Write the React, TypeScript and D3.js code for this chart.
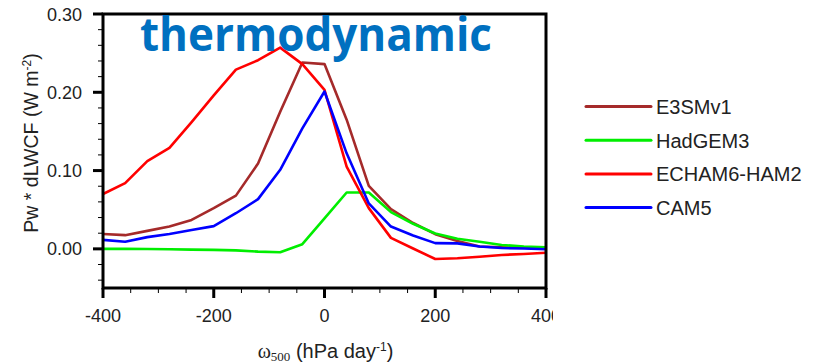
import * as d3 from 'd3';
import { useEffect, useRef } from 'react';

// omega500 bins (hPa/day)
const omega = [-400, -360, -320, -280, -240, -200, -160, -120, -80, -40, 0, 40, 80, 120, 160, 200, 240, 280, 320, 360, 400];

const e3sm = [0.019, 0.0175, 0.023, 0.0285, 0.037, 0.052, 0.068, 0.109, 0.175, 0.238, 0.236, 0.165, 0.0805, 0.0507, 0.033, 0.0188, 0.010, 0.003, 0.002, 0.0015, 0.001];
const hadgem = [0.0, 0.0, -0.0002, -0.0005, -0.001, -0.0013, -0.002, -0.0035, -0.0043, 0.006, 0.039, 0.072, 0.072, 0.047, 0.032, 0.0197, 0.013, 0.009, 0.005, 0.003, 0.002];
const echam = [0.070, 0.084, 0.112, 0.129, 0.162, 0.196, 0.229, 0.241, 0.257, 0.236, 0.203, 0.105, 0.052, 0.014, 0.0005, -0.013, -0.012, -0.010, -0.0078, -0.0065, -0.005];
const cam5 = [0.0115, 0.009, 0.015, 0.019, 0.024, 0.029, 0.0455, 0.0635, 0.101, 0.154, 0.201, 0.122, 0.058, 0.0285, 0.017, 0.0073, 0.007, 0.003, 0.001, 0.0005, -0.0005];

const seriesNames = ['E3SMv1', 'HadGEM3', 'ECHAM6-HAM2', 'CAM5'];
const seriesColors = ['#A52A2A', '#00EE00', '#FF0000', '#0000FF'];
const seriesValues = [e3sm, hadgem, echam, cam5];

const xTicks = [-400, -200, 0, 200, 400];
const yTicks = [0.0, 0.1, 0.2, 0.3];

export default function App() {
  const ref = useRef<SVGSVGElement>(null);

  useEffect(() => {
    const width = 821;
    const height = 363;
    const m = { left: 103, right: 546, top: 14, bottom: 288 };
    const font = 'Liberation Sans, Arial, sans-serif';

    const svg = d3.select(ref.current);
    svg.selectAll('*').remove();
    svg.attr('width', width).attr('height', height);

    svg.append('rect').attr('width', width).attr('height', height).attr('fill', '#fff');

    const x = d3.scaleLinear().domain([-400, 400]).range([m.left, m.right]);
    const y = d3.scaleLinear().domain([-0.05, 0.3]).range([m.bottom, m.top]);

    const defs = svg.append('defs');
    defs.append('clipPath').attr('id', 'plot-clip')
      .append('rect')
      .attr('x', m.left).attr('y', m.top)
      .attr('width', m.right - m.left).attr('height', m.bottom - m.top);
    defs.append('clipPath').attr('id', 'label-clip')
      .append('rect').attr('x', 0).attr('y', 0).attr('width', 553).attr('height', height);

    // lines
    const line = d3.line<number>()
      .x((_, i) => x(omega[i]))
      .y((d) => y(d));

    const lines = svg.append('g').attr('clip-path', 'url(#plot-clip)');
    seriesValues.forEach((vals, i) => {
      lines.append('path')
        .attr('d', line(vals))
        .attr('fill', 'none')
        .attr('stroke', seriesColors[i])
        .attr('stroke-width', 2.6)
        .attr('stroke-linejoin', 'round');
    });

    // frame
    svg.append('rect')
      .attr('x', m.left).attr('y', m.top)
      .attr('width', m.right - m.left).attr('height', m.bottom - m.top)
      .attr('fill', 'none')
      .attr('stroke', '#000')
      .attr('stroke-width', 3);

    // x ticks
    const xMinor = d3.range(-400, 401, 50).filter((v) => v % 200 !== 0);
    svg.append('g').selectAll('line').data(xTicks).enter().append('line')
      .attr('x1', (d) => x(d)).attr('x2', (d) => x(d))
      .attr('y1', m.bottom).attr('y2', m.bottom + 10)
      .attr('stroke', '#000').attr('stroke-width', 3);
    svg.append('g').selectAll('line').data(xMinor).enter().append('line')
      .attr('x1', (d) => x(d)).attr('x2', (d) => x(d))
      .attr('y1', m.bottom).attr('y2', m.bottom + 5)
      .attr('stroke', '#000').attr('stroke-width', 1);
    svg.append('g').attr('clip-path', 'url(#label-clip)')
      .selectAll('text').data(xTicks).enter().append('text')
      .attr('x', (d) => x(d)).attr('y', 322)
      .attr('text-anchor', 'middle')
      .style('font-family', font)
      .style('font-size', '18px')
      .attr('fill', '#222')
      .text((d) => (d < 0 ? '-' + Math.abs(d) : String(d)));

    // y ticks
    const yMinor = d3.range(-0.04, 0.3, 0.02).filter((v) => Math.abs(v * 10 - Math.round(v * 10)) > 0.01);
    svg.append('g').selectAll('line').data(yTicks).enter().append('line')
      .attr('x1', m.left - 10).attr('x2', m.left)
      .attr('y1', (d) => y(d)).attr('y2', (d) => y(d))
      .attr('stroke', '#000').attr('stroke-width', 3);
    svg.append('g').selectAll('line').data(yMinor).enter().append('line')
      .attr('x1', m.left - 5).attr('x2', m.left)
      .attr('y1', (d) => y(d)).attr('y2', (d) => y(d))
      .attr('stroke', '#000').attr('stroke-width', 1);
    svg.append('g').selectAll('text').data(yTicks).enter().append('text')
      .attr('x', 82).attr('y', (d) => y(d) + 6.5)
      .attr('text-anchor', 'end')
      .style('font-family', font)
      .style('font-size', '18px')
      .attr('fill', '#222')
      .text((d) => d3.format('.2f')(d));

    // axis titles
    const yt = svg.append('text')
      .attr('transform', `translate(38, ${(m.top + m.bottom) / 2 - 8}) rotate(-90)`)
      .attr('text-anchor', 'middle')
      .style('font-family', font)
      .style('font-size', '19.5px')
      .attr('fill', '#222');
    yt.append('tspan').text('Pw * dLWCF (W m');
    yt.append('tspan').attr('dy', -7).style('font-size', '12px').text('-2');
    yt.append('tspan').attr('dy', 7).text(')');

    const xt = svg.append('text')
      .attr('x', (m.left + m.right) / 2 + 1).attr('y', 358)
      .attr('text-anchor', 'middle')
      .style('font-family', font)
      .style('font-size', '20px')
      .attr('fill', '#222');
    xt.append('tspan').style('font-family', 'Liberation Serif, serif').text('ω');
    xt.append('tspan').attr('dy', 3).style('font-family', 'Liberation Serif, serif').style('font-size', '13px').text('500');
    xt.append('tspan').attr('dy', -3).text(' (hPa day');
    xt.append('tspan').attr('dy', -7).style('font-size', '12px').text('-1');
    xt.append('tspan').attr('dy', 7).text(')');

    // title
    svg.append('text')
      .attr('x', 140).attr('y', 51)
      .attr('textLength', 352)
      .attr('lengthAdjust', 'spacingAndGlyphs')
      .style('font-family', 'Open Sans, Liberation Sans, sans-serif')
      .style('font-weight', 'bold')
      .style('font-size', '46px')
      .attr('fill', '#0070C0')
      .text('thermodynamic');

    // legend
    const legend = svg.append('g');
    seriesNames.forEach((name, i) => {
      const ly = 106.5 + i * 33.7;
      legend.append('line')
        .attr('x1', 586).attr('x2', 651)
        .attr('y1', ly).attr('y2', ly)
        .attr('stroke', seriesColors[i])
        .attr('stroke-width', 3)
        .attr('stroke-linecap', 'round');
      legend.append('text')
        .attr('x', 656).attr('y', ly + 7.5)
        .style('font-family', font)
        .style('font-size', '20px')
        .attr('fill', '#222')
        .text(name);
    });
  }, []);

  return (
    <div style={{ position: 'fixed', left: 0, top: 0 }}>
      <svg ref={ref} style={{ display: 'block' }}></svg>
    </div>
  );
}
